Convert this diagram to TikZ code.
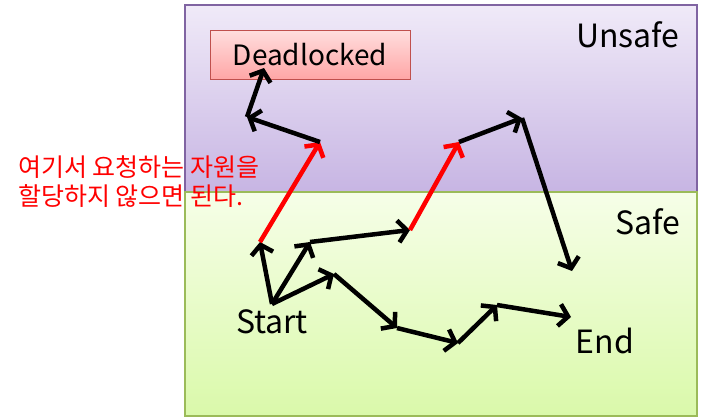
\documentclass[tikz,border=0pt]{standalone}
\usepackage{fontspec}
\setmainfont{Noto Sans CJK KR}
\usetikzlibrary{arrows.meta}

\definecolor{unsafeline}{HTML}{8064A2}
\definecolor{unsafetop}{HTML}{F0EAF8}
\definecolor{unsafebot}{HTML}{C7B5E3}
\definecolor{safeline}{HTML}{9BBB59}
\definecolor{safetop}{HTML}{F6FEE8}
\definecolor{safebot}{HTML}{DAF9AA}
\definecolor{deadline}{HTML}{C0504D}
\definecolor{deadtop}{HTML}{FFDEDE}
\definecolor{deadbot}{HTML}{FFA6A6}

\tikzset{
  move/.style={-{Straight Barb[length=9pt,width=22pt]}, line width=4.5pt, line join=round},
  grant/.style={move, red},
  region/.style={font=\fontsize{32}{34}\selectfont}
}

\begin{document}
\begin{tikzpicture}[x=1pt, y=-1pt]
	\useasboundingbox (0,0) rectangle (704,418);
	% [Vùng trạng thái - Layer 1]
	\shade[top color=unsafetop, bottom color=unsafebot, draw=unsafeline, line width=1.5pt] (185,5) rectangle (697,192);
	\shade[top color=safetop, bottom color=safebot, draw=safeline, line width=1.5pt] (185,192) rectangle (697,416);
	\node[region] (unsafe) at (628,35) {Unsafe};
	\node[region] (safe) at (648,222) {Safe};
	
	% [Hộp Deadlocked - Layer 2]
	\node[draw=deadline, line width=1pt, top color=deadtop, bottom color=deadbot,
	      minimum width=200pt, minimum height=49pt, inner sep=0pt,
	      font=\fontsize{28}{30}\selectfont] (dead) at (310,54.5) {Deadlocked};
	
	% [Các điểm - Layer 3]
	\coordinate (S) at (272,304);
	\coordinate (a) at (260,242);
	\coordinate (b) at (310,242);
	\coordinate (c) at (334,274);
	\coordinate (d) at (410,230);
	\coordinate (e) at (320,142);
	\coordinate (f) at (247,117);
	\coordinate (g) at (264,68);
	\coordinate (h) at (459,142);
	\coordinate (i) at (522,118);
	\coordinate (j) at (572,271);
	\coordinate (k) at (397,328);
	\coordinate (l) at (458,343);
	\coordinate (m) at (497,305);
	\coordinate (n) at (571,317);
	
	% [Đường đi - Layer 4]
	\draw[move] (S) -- (a);
	\draw[move] (S) -- (b);
	\draw[move] (S) -- (c);
	\draw[move] (b) -- (d);
	\draw[grant] (a) -- (e);
	\draw[move] (e) -- (f);
	\draw[move] (f) -- (g);
	\draw[grant] (d) -- (h);
	\draw[move] (h) -- (i);
	\draw[move] (i) -- (j);
	\draw[move] (c) -- (k);
	\draw[move] (k) -- (l);
	\draw[move] (l) -- (m);
	\draw[move] (m) -- (n);
	
	% [Nhãn - Layer 5]
	\node[region] (start) at (272,322) {Start};
	\node[region] (end) at (605,341) {End};
	\node[red, align=left, anchor=west, inner sep=0pt, font=\fontsize{25}{29}\selectfont] (note) at (18,182)
	  {여기서 요청하는 자원을\\할당하지 않으면 된다.};
\end{tikzpicture}
\end{document}
